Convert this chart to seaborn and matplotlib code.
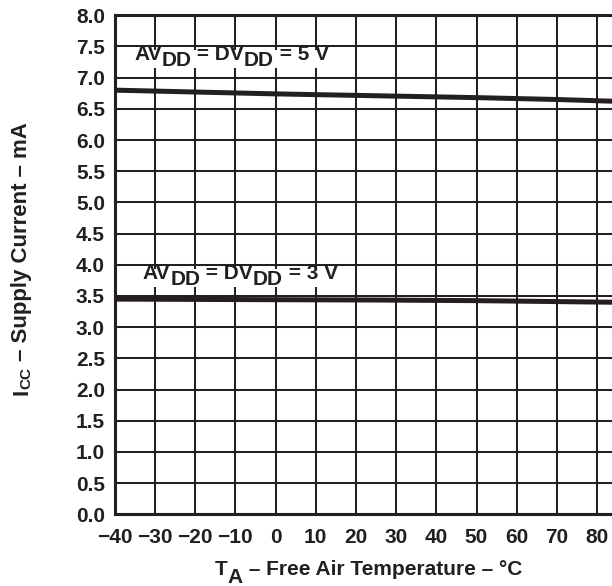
import numpy as np
import pandas as pd
import matplotlib
matplotlib.use('Agg')
import matplotlib.pyplot as plt
from matplotlib.patches import Rectangle
from matplotlib.transforms import Bbox
import seaborn as sns

# values
temp_c = [-40, -20, 0, 25, 50, 70, 90]
icc_5v = [6.80, 6.77, 6.74, 6.71, 6.68, 6.65, 6.61]
icc_3v = [3.45, 3.445, 3.44, 3.435, 3.425, 3.41, 3.395]
supply_names = ['5 V', '3 V']
x_ticks = list(range(-40, 81, 10))
y_ticks = np.arange(0, 8.01, 0.5)

ink = '#231f20'

sns.set_theme(style='white')
plt.rcParams['font.family'] = ['Liberation Sans', 'DejaVu Sans']
plt.rcParams['font.weight'] = 'bold'
plt.rcParams['axes.labelweight'] = 'bold'

df = pd.DataFrame({
    'temp': temp_c * 2,
    'icc': icc_5v + icc_3v,
    'supply': [supply_names[0]] * len(temp_c) + [supply_names[1]] * len(temp_c),
})

fig = plt.figure(figsize=(6.12, 5.86), dpi=100)
# axes run past the right edge of the figure, like the cropped original
ax = fig.add_axes([0.1874, 0.1224, 0.854, 0.8515])

sns.lineplot(data=df, x='temp', y='icc', hue='supply', palette=[ink, ink],
             linewidth=3.6, legend=False, ax=ax)

ax.set_xlim(-40, 90)
ax.set_ylim(0, 8)
ax.set_xticks(x_ticks)
ax.set_yticks(y_ticks)
ax.set_yticklabels(['%.1f' % v for v in y_ticks])
ax.set_xlabel('')
ax.set_ylabel('')
ax.tick_params(axis='both', length=0, labelsize=15, labelcolor=ink)
ax.tick_params(axis='x', pad=10)
ax.tick_params(axis='y', pad=7)
for lab in ax.get_xticklabels() + ax.get_yticklabels():
    lab.set_fontweight('bold')

ax.set_axisbelow(True)
ax.grid(True, color=ink, linewidth=1.45)
# the 90 C gridline sits off the cropped edge
ax.axvline(90, color=ink, linewidth=1.45, zorder=0.5)
for side in ['left', 'bottom', 'top', 'right']:
    ax.spines[side].set_visible(True)
    ax.spines[side].set_color(ink)
    ax.spines[side].set_linewidth(2.2)

fs = 15


def chain(first, parts, drop, **kw):
    # parts: list of (text, lowered?) placed after the first text artist
    out = [first]
    prev = first
    prev_low = False
    for s, low in parts:
        dy = -drop if (low and not prev_low) else (drop if (prev_low and not low) else 0)
        t = ax.annotate(s, xy=(1, 0), xycoords=prev, xytext=(0, dy),
                        textcoords='offset points', ha='left', va='bottom', **kw)
        out.append(t)
        prev = t
        prev_low = low
    return out


# curve labels
t5 = ax.text(-35.2, 7.28, 'AV', fontsize=fs, fontweight='bold', color=ink,
             va='baseline', ha='left', zorder=4)
lab5 = chain(t5, [('DD', True), (' = DV', False), ('DD', True), (' = 5 V', False)], 4.5,
             fontsize=fs, fontweight='bold', color=ink, zorder=4)

t3 = ax.text(-33.0, 3.78, 'AV', fontsize=fs, fontweight='bold', color=ink,
             va='baseline', ha='left', zorder=4)
lab3 = chain(t3, [('DD', True), (' = DV', False), ('DD', True), (' = 3 V', False)], 4.5,
             fontsize=fs, fontweight='bold', color=ink, zorder=4)

# x label
tx = ax.text(215 / 612, 11 / 586, 'T', transform=fig.transFigure, fontsize=fs,
             fontweight='bold', color=ink, ha='left', va='baseline')
chain(tx, [('A', True), (' \u2013 Free Air Temperature \u2013 \u00b0C', False)], 5.5,
      fontsize=fs, fontweight='bold', color=ink)

# y label
ty = ax.text(32.4 / 612, 191 / 586, 'I', transform=fig.transFigure, fontsize=16,
             fontweight='bold', color=ink, ha='right', va='bottom', rotation=90)
prev = ax.annotate('CC', xy=(1, 1), xycoords=ty, xytext=(0.8, 0),
                   textcoords='offset points', ha='right', va='bottom', rotation=90,
                   fontsize=11, fontweight='bold', color=ink)
ax.annotate(' \u2013 Supply Current \u2013 mA', xy=(1, 1), xycoords=prev, xytext=(-0.8, 0),
            textcoords='offset points', ha='right', va='bottom', rotation=90,
            fontsize=16, fontweight='bold', color=ink)

# white backing behind the curve labels
fig.canvas.draw()
renderer = fig.canvas.get_renderer()
for pieces in [lab5, lab3]:
    bb = Bbox.union([p.get_window_extent(renderer) for p in pieces])
    x0, x1 = bb.x0 - 5, bb.x1 + 3
    y0, y1 = bb.y0 + 2, bb.y1 - 5
    (dx0, dy0), (dx1, dy1) = ax.transData.inverted().transform([(x0, y0), (x1, y1)])
    ax.add_patch(Rectangle((dx0, dy0), dx1 - dx0, dy1 - dy0, facecolor='white',
                           edgecolor='none', zorder=3.5))

fig.savefig('out.png', dpi=100)
